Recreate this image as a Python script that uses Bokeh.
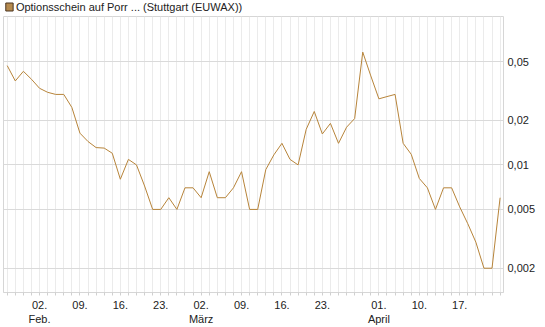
from bokeh.plotting import figure
from bokeh.layouts import column
from bokeh.models import Range1d, FixedTicker, CustomJSTickFormatter, ColumnDataSource
from bokeh.core.properties import value
from bokeh.embed import file_html
from bokeh.resources import INLINE

# one value per trading day, 27 Jan .. 24 Apr
prices = [0.047, 0.037, 0.043, 0.038, 0.033, 0.031, 0.030, 0.030, 0.0245, 0.0164,
          0.0144, 0.0131, 0.0130, 0.0120, 0.0080, 0.0109, 0.0100, 0.0072, 0.005, 0.005,
          0.006, 0.005, 0.007, 0.007, 0.006, 0.009, 0.006, 0.006, 0.007, 0.009,
          0.005, 0.005, 0.0093, 0.0117, 0.0140, 0.0109, 0.0100, 0.0174, 0.0230, 0.0162,
          0.0191, 0.0140, 0.0180, 0.0206, 0.058, 0.040, 0.028, 0.029, 0.030, 0.0140,
          0.0118, 0.0081, 0.007, 0.005, 0.007, 0.007, 0.0052, 0.0040, 0.0030, 0.002,
          0.002, 0.006]
day_index = list(range(len(prices)))

x_tick_pos = [4, 9, 14, 19, 24, 29, 34, 39, 46, 51, 56]
x_tick_labels = ["02.\nFeb.", "09.", "16.", "23.", "02.\nMärz", "09.", "16.", "23.",
                 "01.\nApril", "10.", "17."]
y_ticks = [0.002, 0.005, 0.01, 0.02, 0.05]
legend_text = "Optionsschein auf Porr ... (Stuttgart (EUWAX))"

LINE = "#b7843a"
FONT = "Liberation Sans"
W = 545
HEAD_H = 15

# ---- header strip (legend key + series name), pixel space ----
head = figure(width=W, height=HEAD_H, x_range=Range1d(0, W), y_range=Range1d(HEAD_H, 0),
              x_axis_type=None, y_axis_type=None, output_backend="svg", toolbar_location=None,
              min_border=0, outline_line_color=None)
head.grid.visible = False
head.background_fill_color = "white"
head.border_fill_color = "white"
head.quad(left=[2.5], right=[10.5], top=[2.5], bottom=[10.5],
          fill_color="#b58a4e", line_color="#4a3520", line_width=1)
head.text(x=[13.5], y=[6.8], text=[legend_text], text_font=value(FONT),
          text_font_size="11px", text_baseline="middle", text_color="#222222")

# ---- main chart ----
p = figure(width=W, height=327 - HEAD_H, y_axis_type="log", y_axis_location="right",
           x_range=Range1d(-0.46, 61.42), y_range=Range1d(0.00137, 0.101),
           output_backend="svg", toolbar_location=None,
           min_border_left=3, min_border_right=42, min_border_top=1, min_border_bottom=34)
p.outline_line_color = "#d6d6d6"
p.background_fill_color = "white"
p.border_fill_color = "white"

src = ColumnDataSource(dict(x=day_index, y=prices))
p.line("x", "y", source=src, line_color=LINE, line_width=1)

xa = p.xaxis[0]
xa.ticker = FixedTicker(ticks=x_tick_pos, minor_ticks=day_index)
xa.major_label_overrides = {k: v for k, v in zip(x_tick_pos, x_tick_labels)}
xa.major_tick_line_color = None
xa.major_tick_out = 0
xa.major_tick_in = 0
xa.minor_tick_line_color = "#d0d0d0"
xa.minor_tick_out = 3
xa.minor_tick_in = 0
xa.axis_line_color = "#d6d6d6"
xa.major_label_standoff = 3
xa.major_label_text_font = FONT
xa.major_label_text_font_size = "11px"
xa.major_label_text_color = "#222222"

p.xgrid.grid_line_color = None
p.xgrid.minor_grid_line_color = "#ebebeb"

ya = p.yaxis[0]
ya.ticker = FixedTicker(ticks=y_ticks)
ya.formatter = CustomJSTickFormatter(code="return tick.toString().replace('.', ',');")
ya.major_tick_line_color = None
ya.minor_tick_line_color = None
ya.major_tick_out = 0
ya.major_tick_in = 0
ya.axis_line_color = None
ya.major_label_standoff = 4
ya.major_label_text_font = FONT
ya.major_label_text_font_size = "11px"
ya.major_label_text_color = "#222222"
p.ygrid.grid_line_color = "#dadada"

layout = column(head, p, spacing=0)
open("out.html", "w").write(file_html(layout, INLINE))
